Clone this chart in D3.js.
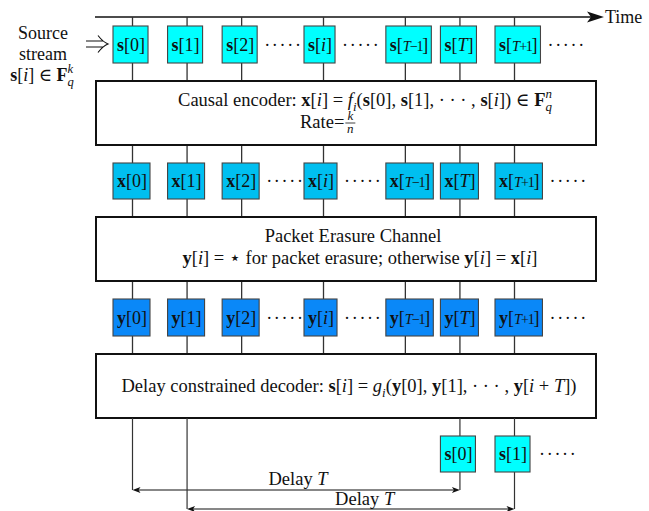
<!DOCTYPE html>
<html><head><meta charset="utf-8">
<script src="https://cdn.jsdelivr.net/npm/d3@7"></script>
<style>body{margin:0;background:#fff}text{font-family:"Liberation Serif","DejaVu Serif",serif;fill:#111}</style>
</head><body><svg id="c" width="649" height="511"></svg>
<script>
// ---- data ----
const indexLabels = ["0","1","2","i","T−1","T","T+1"];
const slots = [0,2,4,7,10,12,14];
const dotsAfter = [2,3,6];
const rowVars = ["s","x","y"];
const rowFills = ["#00ffff","#00bff0","#0a88f8"];
const outputLabels = ["0","1"];
const outputSlots = [12,14];
const delayFrom = [0,2];
const delayTo = [12,14];
const delayLabels = ["Delay ","Delay "];

const svg = d3.select("#c");
const X = d3.scaleLinear().domain([0,14]).range([132.5,514.5]);
const rowTop = [26,163,299], rowBot = [63,199,336];
const blocks = [[81,145],[217,281],[354,418]];
const BX0 = 96, BX1 = 596;
const BOXLEFT = 19.5;

function rich(g, x, y, parts, size, anchor){
  const t = g.append("text").attr("x",x).attr("y",y).attr("font-size",size)
    .attr("text-anchor",anchor||"middle");
  let shift = 0, prev = null;
  parts.forEach(([s,st])=>{
    let target=0, fs=size, fw="normal", fst="normal", dx=0, ls=null;
    if(st==="b") fw="bold";
    if(st==="i") fst="italic";
    if(st==="ism") {fst="italic"; fs=size*0.8; ls=-0.9;}
    if(st==="rsm") {fs=size*0.78; ls=-1.3;}
    if(st==="sub"||st==="subback"){target=size*0.25; fs=size*0.7; fst="italic";}
    if(st==="sup"){target=-size*0.42; fs=size*0.7; fst="italic";}
    if(st==="subback" && prev) dx = -prev.node().getComputedTextLength();
    const sp = t.append("tspan").text(s).attr("font-size",fs)
      .attr("font-weight",fw).attr("font-style",fst).attr("dy",target-shift);
    if(dx) sp.attr("dx",dx);
    if(ls!==null) sp.attr("letter-spacing",ls);
    shift = target; prev = sp;
  });
  return t;
}
function idxParts(lbl){
  if(lbl==="i") return [["i","i"]];
  if(lbl==="T") return [["T","i"]];
  if(lbl.startsWith("T")) return [["T","ism"],[lbl.slice(1),"rsm"]];
  return [[lbl,"r"]];
}
function dots(g,x,y){
  g.append("text").attr("x",x).attr("y",y).attr("font-size",18).attr("letter-spacing",1.7).text("·····");
}

// time axis
svg.append("line").attr("x1",95).attr("x2",592).attr("y1",17).attr("y2",17)
  .attr("stroke","#111").attr("stroke-width",1.6);
svg.append("path").attr("d","M604,17 L587,11.5 L591,17 L587,22.5 Z").attr("fill","#111");
svg.append("text").attr("x",605).attr("y",23).attr("font-size",18).text("Time");

// source label
svg.append("text").attr("x",43).attr("y",39).attr("font-size",18).attr("text-anchor","middle").text("Source");
svg.append("text").attr("x",43).attr("y",60).attr("font-size",18).attr("text-anchor","middle").text("stream");
rich(svg,42,81,[["s","b"],["[","r"],["i","i"],["] ∈ ","r"],["F","b"],["k","sup"],["q","subback"]],18);
// double arrow
svg.append("path").attr("d","M86,41 L103,41 M86,47 L103,47 M98,35.5 Q103,42 108,44 Q103,46 98,52.5")
  .attr("fill","none").attr("stroke","#111").attr("stroke-width",1.1);

// connectors
const lineCol="#333";
slots.forEach(s=>{
  const x=X(s);
  const segs=[[17,rowTop[0]],[rowBot[0],blocks[0][0]],[blocks[0][1],rowTop[1]],[rowBot[1],blocks[1][0]],
    [blocks[1][1],rowTop[2]],[rowBot[2],blocks[2][0]]];
  segs.forEach(([a,b])=>svg.append("line").attr("x1",x).attr("x2",x).attr("y1",a).attr("y2",b)
    .attr("stroke",lineCol).attr("stroke-width",1.3));
});

function labelBox(g, x, top, bot, v, lbl, fill){
  const gb=g.append("g");
  const rect=gb.append("rect");
  const left=x-BOXLEFT;
  const t=rich(gb,left+4,(top+bot)/2+6,[[v,"b"],["[","r"]].concat(idxParts(lbl),[["]","r"]]),18,"start");
  const w=Math.max(31,t.node().getComputedTextLength()+7);
  rect.attr("x",left).attr("y",top).attr("width",w).attr("height",bot-top)
    .attr("fill",fill).attr("stroke","#444").attr("stroke-width",1.1);
  return left+w;
}

// boxes rows
rowVars.forEach((v,r)=>{
  const g=svg.append("g");
  indexLabels.forEach((lbl,k)=>{
    const right=labelBox(g,X(slots[k]),rowTop[r],rowBot[r],v,lbl,rowFills[r]);
    if(dotsAfter.includes(k)) dots(g,right+7,(rowTop[r]+rowBot[r])/2+6);
  });
});

// blocks
blocks.forEach(([a,b])=>svg.append("rect").attr("x",BX0).attr("y",a).attr("width",BX1-BX0).attr("height",b-a)
  .attr("fill","#fff").attr("stroke","#111").attr("stroke-width",2));

const FS=18.5;
rich(svg,365,106,[["Causal encoder: ","r"],["x","b"],["[","r"],["i","i"],["] = ","r"],["f","i"],["i","sub"],["(","r"],
  ["s","b"],["[0], ","r"],["s","b"],["[1], · · · , ","r"],["s","b"],["[","r"],["i","i"],["]) ∈ ","r"],["F","b"],["n","sup"],["q","subback"]],FS);
const rt=svg.append("text").attr("x",300).attr("y",128).attr("font-size",FS).text("Rate=");
const rw=rt.node().getComputedTextLength();
svg.append("text").attr("x",300+rw+6).attr("y",120).attr("font-size",13).attr("font-style","italic").attr("text-anchor","middle").text("k");
svg.append("line").attr("x1",300+rw+1).attr("x2",300+rw+11).attr("y1",123).attr("y2",123).attr("stroke","#111").attr("stroke-width",0.8);
svg.append("text").attr("x",300+rw+6).attr("y",133).attr("font-size",13).attr("font-style","italic").attr("text-anchor","middle").text("n");

svg.append("text").attr("x",353).attr("y",242).attr("font-size",FS).attr("text-anchor","middle").text("Packet Erasure Channel");
rich(svg,360,264,[["y","b"],["[","r"],["i","i"],["] = ⋆ for packet erasure; otherwise ","r"],["y","b"],["[","r"],["i","i"],["] = ","r"],["x","b"],["[","r"],["i","i"],["]","r"]],FS);
rich(svg,349,392,[["Delay constrained decoder: ","r"],["s","b"],["[","r"],["i","i"],["] = ","r"],["g","i"],["i","sub"],["(","r"],
  ["y","b"],["[0], ","r"],["y","b"],["[1], · · · , ","r"],["y","b"],["[","r"],["i","i"],[" + ","r"],["T","i"],["])","r"]],FS);

// bottom: outputs and delays
const outTop=436, outBot=472;
const arrowY=[490,509];
const labelShift=[136,148];
const labelBase=[485,505];
delayFrom.forEach((f,k)=>{
  const x0=X(f), x1=X(delayTo[k]), y=arrowY[k];
  svg.append("line").attr("x1",x0).attr("x2",x0).attr("y1",blocks[2][1]).attr("y2",y).attr("stroke",lineCol).attr("stroke-width",1.2);
  svg.append("line").attr("x1",x1).attr("x2",x1).attr("y1",blocks[2][1]).attr("y2",outTop).attr("stroke",lineCol).attr("stroke-width",1.2);
  svg.append("line").attr("x1",x1).attr("x2",x1).attr("y1",outBot).attr("y2",y).attr("stroke",lineCol).attr("stroke-width",1.2);
  svg.append("line").attr("x1",x0+3).attr("x2",x1-3).attr("y1",y).attr("y2",y).attr("stroke","#111").attr("stroke-width",1.1);
  svg.append("path").attr("d",`M${x0},${y} L${x0+8},${y-3} L${x0+6},${y} L${x0+8},${y+3} Z`).attr("fill","#111");
  svg.append("path").attr("d",`M${x1},${y} L${x1-8},${y-3} L${x1-6},${y} L${x1-8},${y+3} Z`).attr("fill","#111");
  rich(svg,x0+labelShift[k],labelBase[k],[[delayLabels[k],"r"],["T","i"]],FS,"start");
});
outputLabels.forEach((lbl,k)=>{
  const g=svg.append("g");
  const right=labelBox(g,X(outputSlots[k]),outTop,outBot,"s",lbl,rowFills[0]);
  if(k===outputLabels.length-1) dots(g,right+9,(outTop+outBot)/2+6);
});
</script></body></html>
